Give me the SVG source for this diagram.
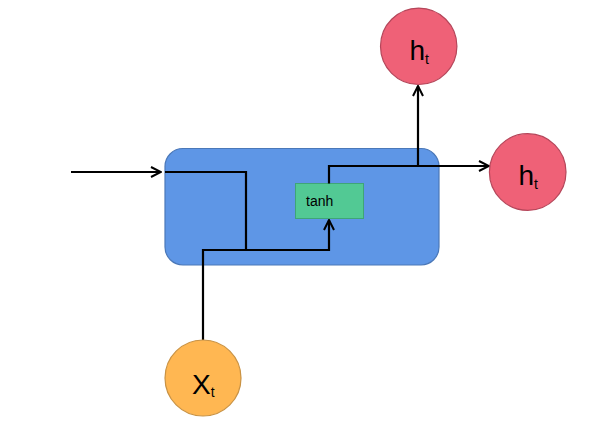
<svg xmlns="http://www.w3.org/2000/svg" width="596" height="421" viewBox="0 0 596 421">
<style>
.wire{fill:none;stroke:#000;stroke-width:2.2;}
.red{fill:#EF6177;stroke:#B5465A;stroke-width:1.2;}
.org{fill:#FFB752;stroke:#C99243;stroke-width:1.2;}
.lbl{font-family:"Liberation Sans",Arial,sans-serif;fill:#000;}
</style>
<defs>
<marker id="arr" viewBox="0 0 12 12" refX="11" refY="6" markerWidth="12" markerHeight="12" markerUnits="userSpaceOnUse" orient="auto">
<path d="M1,1 L11,6 L1,11" fill="none" stroke="#000" stroke-width="2"/>
</marker>
</defs>
<rect width="596" height="421" fill="#fff"/>
<g id="cell">
<rect x="165" y="148.5" width="274" height="116.5" rx="18" fill="#5E96E6" stroke="#4B78B8" stroke-width="1.2"/>
</g>
<g id="tanh">
<rect x="295.5" y="183.5" width="68" height="35" fill="#52C994" stroke="#3FA577" stroke-width="1"/>
<text class="lbl" x="306" y="206" font-size="14">tanh</text>
</g>
<g id="connectors">
<path class="wire" d="M71,172 L161,172" marker-end="url(#arr)"/>
<path class="wire" d="M165,172 L246,172 L246,250"/>
<path class="wire" d="M203,340 L203,250 L329,250 L329,220" marker-end="url(#arr)"/>
<path class="wire" d="M329,183.5 L329,166 L418,166 L418,86" marker-end="url(#arr)"/>
<path class="wire" d="M418,166 L489,166" marker-end="url(#arr)"/>
</g>
<g id="ht_top">
<circle class="red" cx="418.7" cy="46.3" r="38.2"/>
<text class="lbl" x="409.5" y="59.5" font-size="28">h<tspan font-size="14" dy="4">t</tspan></text>
</g>
<g id="ht_right">
<circle class="red" cx="527.7" cy="172" r="38.3"/>
<text class="lbl" x="518.5" y="185" font-size="28">h<tspan font-size="14" dy="4">t</tspan></text>
</g>
<g id="xt">
<circle class="org" cx="203" cy="378" r="38"/>
<text class="lbl" x="192" y="393.5" font-size="28">X<tspan font-size="14" dy="3.5">t</tspan></text>
</g>
</svg>
